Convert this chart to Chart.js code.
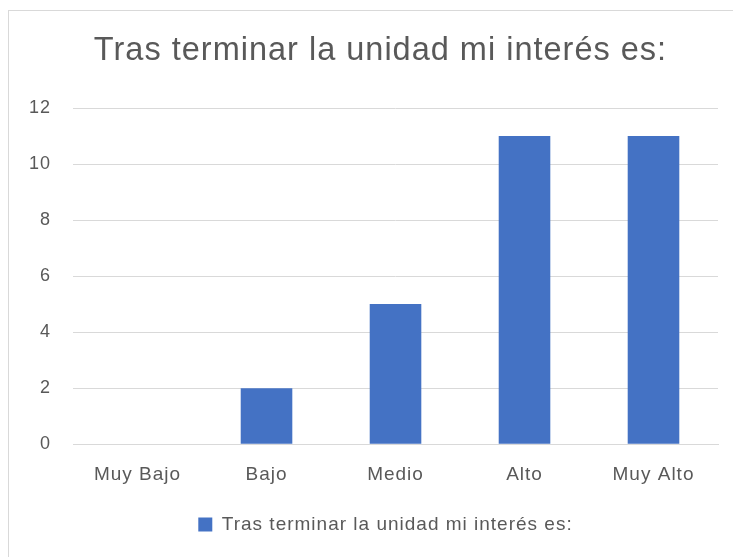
<!DOCTYPE html>
<html>
<head>
<meta charset="utf-8">
<script src="https://cdn.jsdelivr.net/npm/chart.js@4"></script>
<style>
  body { margin: 0; background: #fff; }
  #frame { position: absolute; left: 8px; top: 10px; width: 800px; height: 600px; border: 1px solid #d9d9d9; }
  #wrap { position: absolute; left: 0; top: 0; width: 733px; height: 557px; }
</style>
</head>
<body>
<div id="frame"></div>
<div id="wrap"><canvas id="chart" width="733" height="557"></canvas></div>
<script>
const categories = ['Muy Bajo', 'Bajo', 'Medio', 'Alto', 'Muy Alto'];
const seriesName = 'Tras terminar la unidad mi interés es:';
const values = [0, 2, 5, 11, 11];
const yTicks = [0, 2, 4, 6, 8, 10, 12];

const fontFamily = '"Liberation Sans", sans-serif';
const textColor = '#595959';
const gridColor = '#d9d9d9';

// the original text is a little looser than Liberation Sans
const spacing = {
  id: 'spacing',
  beforeUpdate(chart) { chart.ctx.letterSpacing = '1px'; },
  beforeDraw(chart) { chart.ctx.letterSpacing = '1px'; }
};

// the original centres title and legend a bit right of the canvas centre
const shiftBoxes = {
  id: 'shiftBoxes',
  afterLayout(chart) {
    if (chart.titleBlock) { chart.titleBlock.left += 18; chart.titleBlock.right += 18; }
    if (chart.legend) { chart.legend.left += 23; chart.legend.right += 23; }
  }
};

const ctx = document.getElementById('chart').getContext('2d');

const chart = new Chart(ctx, {
  type: 'bar',
  data: {
    labels: categories,
    datasets: [{
      label: seriesName,
      data: values,
      backgroundColor: '#4472c4',
      borderWidth: 0,
      barPercentage: 0.4,
      categoryPercentage: 1
    }]
  },
  plugins: [spacing, shiftBoxes],
  options: {
    responsive: false,
    animation: false,
    layout: {
      padding: { top: 32, left: 7, right: 15, bottom: 13 }
    },
    plugins: {
      title: {
        display: true,
        text: seriesName,
        color: textColor,
        font: { family: fontFamily, size: 32.5, weight: 'normal' },
        padding: { top: 0, bottom: 37 }
      },
      legend: {
        position: 'bottom',
        labels: {
          color: textColor,
          font: { family: fontFamily, size: 19 },
          boxWidth: 14,
          boxHeight: 14,
          padding: 18
        }
      },
      tooltip: { enabled: false }
    },
    scales: {
      x: {
        grid: { display: false },
        border: { color: gridColor, width: 1 },
        ticks: {
          color: textColor,
          font: { family: fontFamily, size: 19 },
          padding: 11
        }
      },
      y: {
        min: 0,
        max: 12,
        afterBuildTicks: (axis) => { axis.ticks = yTicks.map(v => ({ value: v })); },
        grid: { color: gridColor, drawTicks: false },
        border: { display: false },
        ticks: {
          color: textColor,
          font: { family: fontFamily, size: 18 },
          padding: 22
        }
      }
    }
  }
});
</script>
</body>
</html>
